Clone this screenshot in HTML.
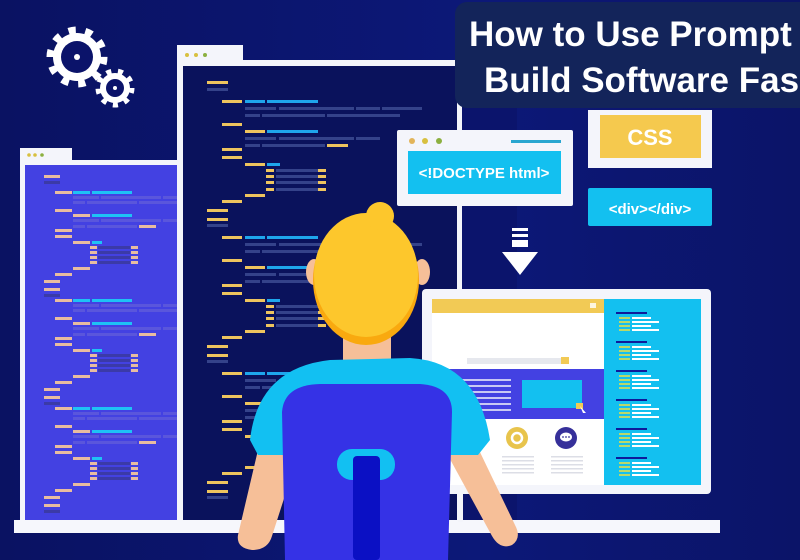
<!DOCTYPE html>
<html><head><meta charset="utf-8"><style>
html,body{margin:0;padding:0;width:800px;height:560px;overflow:hidden;background:#0b136a}
svg{display:block}
</style></head><body>
<svg width="800" height="560" viewBox="0 0 800 560" xmlns="http://www.w3.org/2000/svg">
<defs>
<linearGradient id="bg" x1="0" y1="0" x2="1" y2="0">
<stop offset="0" stop-color="#0a1262"/><stop offset="0.6" stop-color="#0c1878"/><stop offset="1" stop-color="#0b1468"/>
</linearGradient>
<g id="mblk">
<rect x="222" y="0" width="20" height="3" fill="#eec45e"/><rect x="245" y="0" width="20" height="3" fill="#1ea6ec"/><rect x="267" y="0" width="51" height="3" fill="#1ea6ec"/>
<rect x="245" y="7" width="31" height="3" fill="#34428a"/><rect x="279" y="7" width="75" height="3" fill="#34428a"/><rect x="356" y="7" width="24" height="3" fill="#34428a"/><rect x="382" y="7" width="40" height="3" fill="#34428a"/>
<rect x="245" y="14" width="15" height="3" fill="#34428a"/><rect x="262" y="14" width="63" height="3" fill="#34428a"/><rect x="327" y="14" width="73" height="3" fill="#34428a"/>
<rect x="222" y="23" width="20" height="3" fill="#eec45e"/>
<rect x="245" y="30" width="20" height="3" fill="#eec45e"/><rect x="267" y="30" width="51" height="3" fill="#1ea6ec"/>
<rect x="245" y="37" width="31" height="3" fill="#34428a"/><rect x="279" y="37" width="75" height="3" fill="#34428a"/><rect x="356" y="37" width="24" height="3" fill="#34428a"/>
<rect x="245" y="44" width="15" height="3" fill="#34428a"/><rect x="262" y="44" width="63" height="3" fill="#34428a"/><rect x="327" y="44" width="21" height="3" fill="#eec45e"/>
<rect x="222" y="48" width="20" height="3" fill="#eec45e"/>
<rect x="222" y="56" width="20" height="3" fill="#eec45e"/>
<rect x="245" y="63" width="20" height="3" fill="#eec45e"/><rect x="267" y="63" width="13" height="3" fill="#1ea6ec"/>
<rect x="266" y="69" width="8" height="3" fill="#eec45e"/><rect x="276" y="69" width="42" height="3" fill="#34428a"/><rect x="318" y="69" width="8" height="3" fill="#eec45e"/>
<rect x="266" y="75" width="8" height="3" fill="#eec45e"/><rect x="276" y="75" width="42" height="3" fill="#34428a"/><rect x="318" y="75" width="8" height="3" fill="#eec45e"/>
<rect x="266" y="81" width="8" height="3" fill="#eec45e"/><rect x="276" y="81" width="42" height="3" fill="#34428a"/><rect x="318" y="81" width="8" height="3" fill="#eec45e"/>
<rect x="266" y="88" width="8" height="3" fill="#eec45e"/><rect x="276" y="88" width="42" height="3" fill="#34428a"/><rect x="318" y="88" width="8" height="3" fill="#eec45e"/>
<rect x="245" y="94" width="20" height="3" fill="#eec45e"/>
<rect x="222" y="100" width="20" height="3" fill="#eec45e"/>
<rect x="207" y="109" width="21" height="3" fill="#eec45e"/>
<rect x="207" y="118" width="21" height="3" fill="#eec45e"/>
<rect x="207" y="124" width="21" height="3" fill="#34428a"/>
</g>
<g id="lblk">
<rect x="55" y="0" width="17" height="3" fill="#e8bca0"/><rect x="73" y="0" width="17" height="3" fill="#1ec2f5"/><rect x="92" y="0" width="40" height="3" fill="#1ec2f5"/>
<rect x="73" y="5" width="26" height="3" fill="#5a56dc"/><rect x="101" y="5" width="60" height="3" fill="#5a56dc"/><rect x="163" y="5" width="14" height="3" fill="#5a56dc"/>
<rect x="73" y="10" width="12" height="3" fill="#5a56dc"/><rect x="87" y="10" width="50" height="3" fill="#5a56dc"/><rect x="139" y="10" width="38" height="3" fill="#5a56dc"/>
<rect x="55" y="18" width="17" height="3" fill="#e8bca0"/>
<rect x="73" y="23" width="17" height="3" fill="#e8bca0"/><rect x="92" y="23" width="40" height="3" fill="#1ec2f5"/>
<rect x="73" y="28" width="26" height="3" fill="#5a56dc"/><rect x="101" y="28" width="60" height="3" fill="#5a56dc"/><rect x="163" y="28" width="14" height="3" fill="#5a56dc"/>
<rect x="73" y="34" width="12" height="3" fill="#5a56dc"/><rect x="87" y="34" width="50" height="3" fill="#5a56dc"/><rect x="139" y="34" width="17" height="3" fill="#e8bca0"/>
<rect x="55" y="38" width="17" height="3" fill="#e8bca0"/>
<rect x="55" y="44" width="17" height="3" fill="#e8bca0"/>
<rect x="73" y="50" width="17" height="3" fill="#e8bca0"/><rect x="92" y="50" width="10" height="3" fill="#1ec2f5"/>
<rect x="90" y="55" width="7" height="3" fill="#e8bca0"/><rect x="98" y="55" width="32" height="3" fill="#3b3aa8"/><rect x="131" y="55" width="7" height="3" fill="#e8bca0"/>
<rect x="90" y="60" width="7" height="3" fill="#e8bca0"/><rect x="98" y="60" width="32" height="3" fill="#3b3aa8"/><rect x="131" y="60" width="7" height="3" fill="#e8bca0"/>
<rect x="90" y="65" width="7" height="3" fill="#e8bca0"/><rect x="98" y="65" width="32" height="3" fill="#3b3aa8"/><rect x="131" y="65" width="7" height="3" fill="#e8bca0"/>
<rect x="90" y="70" width="7" height="3" fill="#e8bca0"/><rect x="98" y="70" width="32" height="3" fill="#3b3aa8"/><rect x="131" y="70" width="7" height="3" fill="#e8bca0"/>
<rect x="73" y="76" width="17" height="3" fill="#e8bca0"/>
<rect x="55" y="82" width="17" height="3" fill="#e8bca0"/>
<rect x="44" y="89" width="16" height="3" fill="#e8bca0"/>
<rect x="44" y="97" width="16" height="3" fill="#e8bca0"/>
<rect x="44" y="103" width="16" height="3" fill="#3b3aa8"/>
</g>
<g id="pgrp">
<rect x="616" y="0" width="31" height="2" fill="#0e1a9a"/>
<rect x="619" y="5" width="11" height="2" fill="#b9d86a"/><rect x="632" y="5" width="19" height="2" fill="#fff"/>
<rect x="619" y="9" width="11" height="2" fill="#b9d86a"/><rect x="632" y="9" width="27" height="2" fill="#fff"/>
<rect x="619" y="13" width="11" height="2" fill="#b9d86a"/><rect x="632" y="13" width="19" height="2" fill="#fff"/>
<rect x="619" y="17" width="11" height="2" fill="#b9d86a"/><rect x="632" y="17" width="27" height="2" fill="#fff"/>
</g>
</defs>
<rect width="800" height="560" fill="url(#bg)"/>

<!-- gears -->
<circle cx="77" cy="57" r="24" fill="#fff"/>
<circle cx="77" cy="57" r="26" fill="none" stroke="#fff" stroke-width="9" stroke-dasharray="7 9.3"/>
<circle cx="77" cy="57" r="16" fill="#0b136a"/><circle cx="77" cy="57" r="3" fill="#fff"/>
<circle cx="115" cy="88" r="15" fill="#fff"/>
<circle cx="115" cy="88" r="16.5" fill="none" stroke="#fff" stroke-width="6" stroke-dasharray="5 6.5"/>
<circle cx="115" cy="88" r="9" fill="#0b136a"/><circle cx="115" cy="88" r="2" fill="#fff"/>

<!-- left window -->
<rect x="20" y="148" width="52" height="16" fill="#f4f5fb"/>
<rect x="20" y="160" width="162" height="362" fill="#f4f5fb"/>
<rect x="25" y="165" width="152" height="355" fill="#4341e2"/>
<circle cx="29" cy="155" r="1.8" fill="#d8c040"/><circle cx="35" cy="155" r="1.8" fill="#d8c040"/><circle cx="42" cy="155" r="1.8" fill="#8cb040"/>
<svg x="25" y="165" width="152" height="355" viewBox="25 165 152 355">
<rect x="44" y="175" width="16" height="3" fill="#e8bca0"/><rect x="44" y="181" width="16" height="3" fill="#3b3aa8"/>
<use href="#lblk" y="191"/>
<use href="#lblk" y="299"/>
<use href="#lblk" y="407"/>
</svg>

<!-- main window -->
<rect x="177" y="45" width="66" height="20" fill="#f4f5fb"/>
<rect x="177" y="60" width="290" height="462" fill="#f4f5fb"/>
<rect x="183" y="66" width="284" height="454" fill="#0a125c"/>
<circle cx="187" cy="55" r="2" fill="#d8c040"/><circle cx="196" cy="55" r="2" fill="#d8c040"/><circle cx="205" cy="55" r="2" fill="#8cb040"/>
<svg x="183" y="66" width="274" height="454" viewBox="183 66 274 454">
<rect x="207" y="81" width="21" height="3" fill="#eec45e"/><rect x="207" y="88" width="21" height="3" fill="#34428a"/>
<use href="#mblk" y="100"/>
<use href="#mblk" y="236"/>
<use href="#mblk" y="372"/>
</svg>
<rect x="457" y="60" width="60" height="462" fill="#0b146c"/>
<rect x="457" y="60" width="5" height="462" fill="#f4f5fb"/>

<!-- desk -->
<rect x="14" y="520" width="706" height="13" fill="#f6f7fc"/>

<!-- title box -->
<rect x="455" y="2" width="360" height="106" rx="12" fill="#13245a"/>
<text x="469" y="46" font-family="Liberation Sans, sans-serif" font-weight="bold" font-size="35" fill="#fff">How to Use Prompt</text>
<text x="484" y="92" font-family="Liberation Sans, sans-serif" font-weight="bold" font-size="35" fill="#fff">Build Software Fas</text>

<!-- CSS box -->
<rect x="588" y="110" width="124" height="58" fill="#f4f5fb"/>
<rect x="600" y="115" width="101" height="43" fill="#f5c94e"/>
<text x="650" y="145" text-anchor="middle" font-family="Liberation Sans, sans-serif" font-weight="bold" font-size="22" fill="#fff">CSS</text>

<!-- div box -->
<rect x="588" y="188" width="124" height="38" rx="2" fill="#13c0f0"/>
<text x="650" y="214" text-anchor="middle" font-family="Liberation Sans, sans-serif" font-weight="bold" font-size="15" fill="#fff">&lt;div&gt;&lt;/div&gt;</text>

<!-- doctype window -->
<rect x="397" y="130" width="176" height="76" rx="2" fill="#f4f5fb"/>
<circle cx="412" cy="141" r="3" fill="#e2b45a"/><circle cx="425" cy="141" r="3" fill="#d8c040"/><circle cx="439" cy="141" r="3" fill="#8cb040"/>
<rect x="511" y="140" width="50" height="3" fill="#2aa6d0"/>
<rect x="408" y="151" width="153" height="43" fill="#13c0f0"/>
<text x="484" y="178" text-anchor="middle" font-family="Liberation Sans, sans-serif" font-weight="bold" font-size="15" fill="#fff">&lt;!DOCTYPE html&gt;</text>

<!-- arrow -->
<rect x="512" y="228" width="16" height="3" fill="#fff"/>
<rect x="512" y="234" width="16" height="3" fill="#fff"/>
<rect x="512" y="240" width="16" height="7" fill="#fff"/>
<polygon points="502,252 538,252 520,275" fill="#fff"/>

<!-- monitor -->
<rect x="458" y="490" width="5" height="32" fill="#f4f5fb"/>
<rect x="422" y="289" width="289" height="205" rx="4" fill="#f4f5fb"/>
<rect x="432" y="299" width="172" height="186" fill="#fff"/>
<rect x="432" y="299" width="172" height="14" fill="#f2ca55"/>
<rect x="590" y="303" width="6" height="5" fill="#fff" opacity="0.8"/>
<rect x="467" y="358" width="101" height="6" fill="#e6e8ee"/>
<rect x="561" y="357" width="8" height="7" fill="#f2ca55"/>
<rect x="432" y="369" width="172" height="50" fill="#4341e2"/>
<rect x="453" y="379" width="58" height="2" fill="#c8c8f4"/><rect x="453" y="385" width="58" height="2" fill="#c8c8f4"/><rect x="453" y="391" width="58" height="2" fill="#c8c8f4"/><rect x="453" y="397" width="58" height="2" fill="#c8c8f4"/><rect x="453" y="403" width="58" height="2" fill="#c8c8f4"/><rect x="453" y="409" width="58" height="2" fill="#c8c8f4"/>
<rect x="522" y="380" width="60" height="28" fill="#13c0f0"/>
<rect x="576" y="403" width="7" height="6" fill="#f2ca55"/>
<polygon points="580,406 586,413 583,413" fill="#fff"/>
<circle cx="517" cy="438" r="11" fill="#e8c44c"/><circle cx="517" cy="438" r="5" fill="none" stroke="#fff" stroke-width="2.5"/>
<circle cx="566" cy="438" r="11" fill="#36309a"/><ellipse cx="566" cy="437" rx="6" ry="4.5" fill="#fff"/>
<circle cx="563" cy="437" r="0.9" fill="#36309a"/><circle cx="566" cy="437" r="0.9" fill="#36309a"/><circle cx="569" cy="437" r="0.9" fill="#36309a"/>
<g fill="#dcdee6"><rect x="502" y="456" width="32" height="1.5"/><rect x="502" y="460" width="32" height="1.5"/><rect x="502" y="464" width="32" height="1.5"/><rect x="502" y="468" width="32" height="1.5"/><rect x="502" y="472" width="32" height="1.5"/>
<rect x="551" y="456" width="32" height="1.5"/><rect x="551" y="460" width="32" height="1.5"/><rect x="551" y="464" width="32" height="1.5"/><rect x="551" y="468" width="32" height="1.5"/><rect x="551" y="472" width="32" height="1.5"/></g>
<rect x="604" y="299" width="97" height="186" fill="#13c0f0"/>
<use href="#pgrp" y="312"/><use href="#pgrp" y="341"/><use href="#pgrp" y="370"/><use href="#pgrp" y="399"/><use href="#pgrp" y="428"/><use href="#pgrp" y="457"/>

<!-- person -->
<path d="M258,450 L238,535 Q236,548 252,550 Q268,550 272,536 L298,455 Z" fill="#f6bf98"/>
<path d="M445,450 L492,536 Q500,550 512,545 Q522,538 515,525 L478,448 Z" fill="#f6bf98"/>
<ellipse cx="314" cy="272" rx="8" ry="13" fill="#f6bf98"/>
<ellipse cx="422" cy="272" rx="8" ry="13" fill="#f6bf98"/>
<rect x="343" y="330" width="48" height="40" fill="#f6bf98"/>
<path d="M250,440 Q258,368 330,360 L410,358 Q478,362 490,440 L478,455 L258,455 Z" fill="#12c0f2"/>
<path d="M285,560 L282,412 Q284,385 320,384 L420,384 Q452,386 452,412 L448,560 Z" fill="#3532e6"/>
<rect x="337" y="449" width="58" height="31" rx="15" fill="#12c0f2"/>
<rect x="353" y="456" width="27" height="104" rx="4" fill="#0b10c4"/>
<ellipse cx="366" cy="280" rx="53" ry="65" fill="#f9a90f"/>
<ellipse cx="366" cy="275" rx="52" ry="62" fill="#fdc72c"/>
<circle cx="380" cy="216" r="14" fill="#fdc72c"/>
</svg>
</body></html>
